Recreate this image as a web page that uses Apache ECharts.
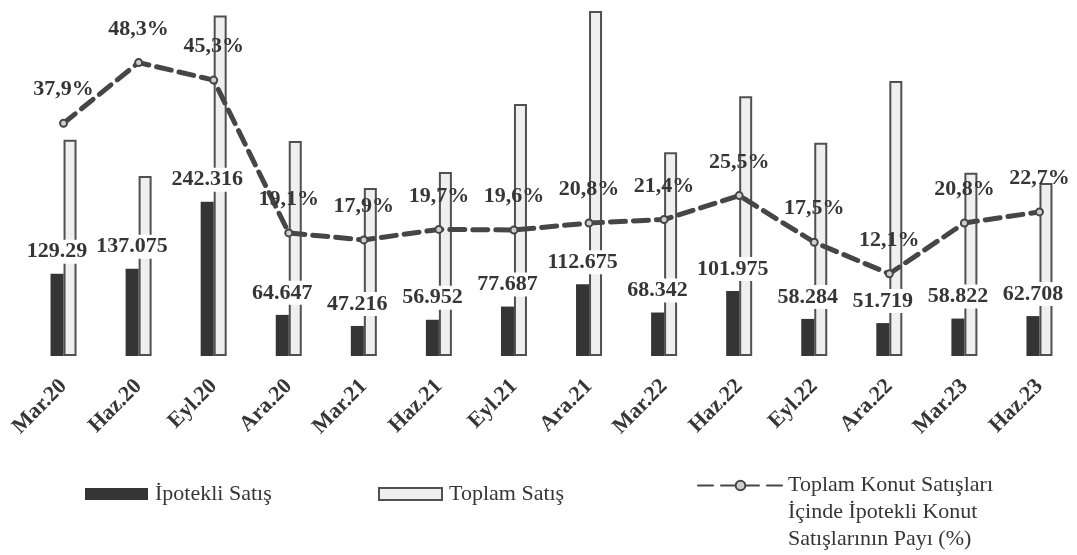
<!DOCTYPE html>
<html>
<head>
<meta charset="utf-8">
<script src="https://cdn.jsdelivr.net/npm/echarts@6/dist/echarts.min.js"></script>
<style>
html,body{margin:0;padding:0;background:#fff;}
#chart{width:1077px;height:555px;}
</style>
</head>
<body>
<div id="chart"></div>
<script>
const categories = ['Mar.20','Haz.20','Eyl.20','Ara.20','Mar.21','Haz.21','Eyl.21','Ara.21','Mar.22','Haz.22','Eyl.22','Ara.22','Mar.23','Haz.23'];
const mortgageSales = [129.29, 137.075, 242.316, 64.647, 47.216, 56.952, 77.687, 112.675, 68.342, 101.975, 58.284, 51.719, 58.822, 62.708];
const totalSales = [340, 283, 535, 338, 264, 289, 396, 542, 320, 408, 335, 432, 288, 272];
const mortgageShare = [37.9, 48.3, 45.3, 19.1, 17.9, 19.7, 19.6, 20.8, 21.4, 25.5, 17.5, 12.1, 20.8, 22.7];

const seriesNames = ['İpotekli Satış', 'Toplam Satış', 'Toplam Konut Satışları\nİçinde İpotekli Konut\nSatışlarının Payı (%)'];

const FONT = 'Liberation Serif';
const TXT = '#363636';

const chart = echarts.init(document.getElementById('chart'), null, {renderer: 'canvas'});
chart.setOption({
  animation: false,
  backgroundColor: '#ffffff',
  grid: {left: 26, right: 0, top: 6, bottom: 199, containLabel: false},
  legend: [
    {data: [seriesNames[0]], left: 80, top: 478, icon: 'rect', itemWidth: 63, itemHeight: 12,
     textStyle: {fontFamily: FONT, fontSize: 22, color: TXT, padding: [0,0,0,2]}},
    {data: [seriesNames[1]], left: 373, top: 478, icon: 'rect', itemWidth: 63, itemHeight: 12,
     textStyle: {fontFamily: FONT, fontSize: 22, color: TXT, padding: [0,0,0,2]}},
    {data: [seriesNames[2]], left: 692, top: 413, itemWidth: 85, itemHeight: 12,
     formatter: name => ' \n \n' + name,
     textStyle: {fontFamily: FONT, fontSize: 22, color: TXT, lineHeight: 27}}
  ],
  xAxis: {
    type: 'category',
    data: categories,
    axisLine: {show: false},
    axisTick: {show: false},
    axisLabel: {rotate: 45, margin: 27, fontFamily: FONT, fontWeight: 'bold', fontSize: 22, color: TXT, interval: 0}
  },
  yAxis: [
    {type: 'value', min: 0, max: 550, show: false, splitLine: {show: false}},
    {type: 'value', min: -2, max: 58, show: false, splitLine: {show: false}}
  ],
  series: [
    {
      name: seriesNames[0], type: 'bar', data: mortgageSales, barWidth: 13, barGap: 0,
      itemStyle: {color: '#353535'},
      label: {show: true, position: 'top', distance: 10, formatter: p => String(p.value),
        fontFamily: FONT, fontWeight: 'bold', fontSize: 22, color: TXT,
        backgroundColor: '#ffffff', padding: [1, 2]},
      z: 3
    },
    {
      name: seriesNames[1], type: 'bar', data: totalSales, barWidth: 13, barGap: 0,
      itemStyle: {color: '#efefef', borderColor: '#505050', borderWidth: 2},
      z: 2
    },
    {
      name: seriesNames[2], type: 'line', yAxisIndex: 1, data: mortgageShare,
      symbol: 'circle', symbolSize: 7, showSymbol: true,
      lineStyle: {color: '#464646', width: 5, type: [15, 8], cap: 'round'},
      itemStyle: {color: '#cfcfcf', borderColor: '#464646', borderWidth: 2},
      label: {show: true, position: 'top', distance: 18,
        formatter: p => String(p.value).replace('.', ',') + '%',
        fontFamily: FONT, fontWeight: 'bold', fontSize: 22, color: TXT},
      z: 4
    }
  ]
});
</script>
</body>
</html>
